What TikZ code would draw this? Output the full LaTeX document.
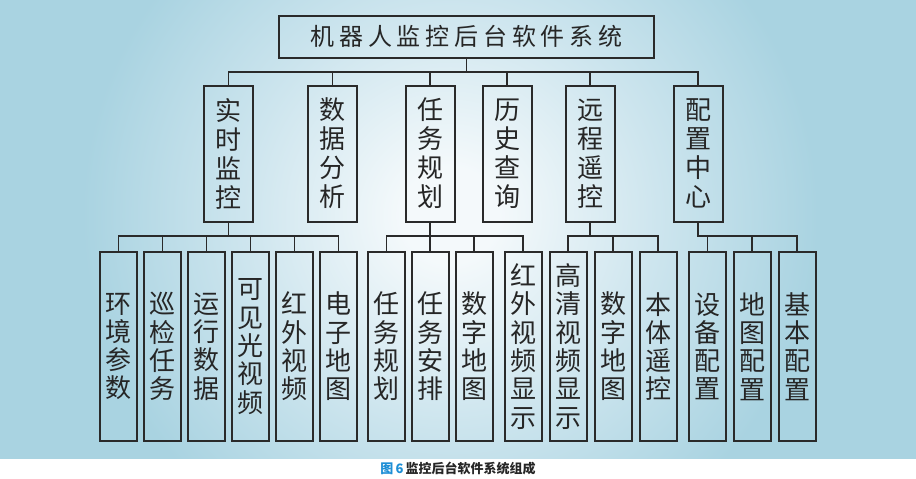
\documentclass[tikz,border=0pt]{standalone}
\usepackage{fontspec}
\usepackage{xcolor}
\usepackage{tikz}
\usetikzlibrary{shapes,arrows,positioning}
\newfontfamily\cjk{Noto Sans CJK SC}
\newfontfamily\cjkwide{Noto Sans CJK SC}[LetterSpace=20]
\definecolor{bgin}{HTML}{F4F9FB}
\definecolor{bgmid}{HTML}{CDE5EE}
\definecolor{bgout}{HTML}{A9D3E1}
\definecolor{linec}{HTML}{2A2A2A}
\definecolor{capblue}{HTML}{1E8FD6}
\pgfdeclareradialshading{glow}{\pgfpoint{0bp}{0bp}}{color(0bp)=(bgin); color(3bp)=(bgin); color(13bp)=(bgmid); color(23bp)=(bgout); color(50bp)=(bgout)}

\begin{document}
\begin{tikzpicture}[x=1pt,y=-1pt,
    level 1/.style={level distance=117pt, sibling distance=93.9pt},
    level 2/.style={level distance=193pt, sibling distance=44pt},
    edge from parent/.style={draw=linec, line width=1.4pt},
    edge from parent path={(\tikzparentnode.south) -- ++(0pt,-13.5pt) -| (\tikzchildnode.north)},
    every node/.style={draw=linec, line width=2pt, inner sep=0pt, align=center, text=black!85},
    rootbox/.style={minimum width=375pt, minimum height=42pt, font=\cjkwide\fontsize{24}{28}\selectfont},
    midbox/.style={minimum width=49pt, minimum height=136pt, font=\cjk\fontsize{26}{29}\selectfont},
    leafbox/.style={minimum width=37pt, minimum height=189pt, font=\cjk\fontsize{26}{28.3}\selectfont}]
    % background
    \useasboundingbox (0,0) rectangle (916,479);
    \fill[bgout] (0,0) rectangle (916,459);
    \begin{scope}
      \clip (0,0) rectangle (916,459);
      \shade[shading=glow] (450,215) circle[radius=400];
    \end{scope}
    \fill[white] (0,459) rectangle (916,479);
    % tree
    \node[rootbox] (root) at (466.5,36.5) {机器人监控后台软件系统}
      child[xshift=-3.25pt] { node[midbox] (ssjk) {实\\时\\监\\控}
          child { node[leafbox] (hjcs) {环\\境\\参\\数} }
          child { node[leafbox] (xjrw) {巡\\检\\任\\务} }
          child { node[leafbox] (yxsj) {运\\行\\数\\据} }
          child { node[leafbox] (kjgsp) {可\\见\\光\\视\\频} }
          child { node[leafbox] (hwsp) {红\\外\\视\\频} }
          child { node[leafbox] (dzdt) {电\\子\\地\\图} }
      }
      child[xshift=6.85pt] { node[midbox] (sjfx) {数\\据\\分\\析} }
      child[xshift=10.45pt] { node[midbox] (rwgh) {任\\务\\规\\划}
          child[xshift=22.5pt] { node[leafbox] (rwgh2) {任\\务\\规\\划} }
          child[xshift=22pt] { node[leafbox] (rwap) {任\\务\\安\\排} }
          child[xshift=22pt] { node[leafbox] (szdt) {数\\字\\地\\图} }
          child[xshift=27pt] { node[leafbox] (hwxs) {红\\外\\视\\频\\显\\示} }
      }
      child[xshift=-6.45pt] { node[midbox] (lscx) {历\\史\\查\\询} }
      child[xshift=-17.35pt] { node[midbox] (ycyk) {远\\程\\遥\\控}
          child[xshift=22pt] { node[leafbox] (gqxs) {高\\清\\视\\频\\显\\示} }
          child[xshift=23pt] { node[leafbox] (szdt2) {数\\字\\地\\图} }
          child[xshift=24pt] { node[leafbox] (btyk) {本\\体\\遥\\控} }
      }
      child[xshift=-3.25pt] { node[midbox] (pzzx) {配\\置\\中\\心}
          child[xshift=53.5pt] { node[leafbox] (sbpz) {设\\备\\配\\置} }
          child[xshift=54pt] { node[leafbox] (dtpz) {地\\图\\配\\置} }
          child[xshift=55pt] { node[leafbox] (jbpz) {基\\本\\配\\置} }
      };
    % caption
    \node[draw=none, font=\cjk\bfseries\fontsize{13}{15}\selectfont] (cap) at (458,468)
      {\textcolor{capblue}{图\,6}\,监控后台软件系统组成};
\end{tikzpicture}
\end{document}
